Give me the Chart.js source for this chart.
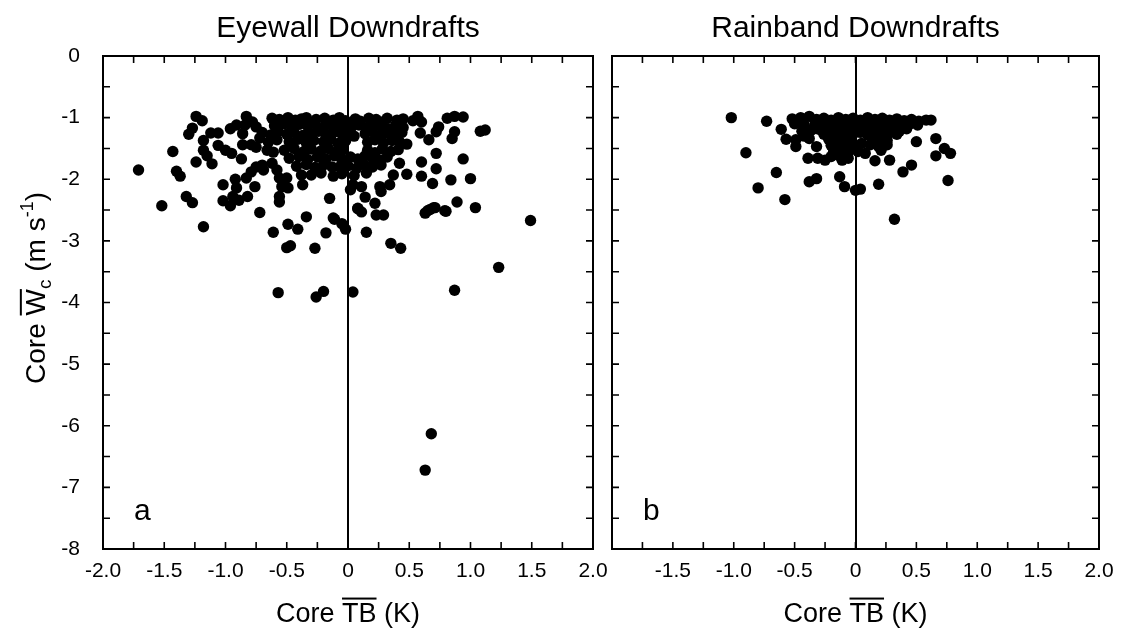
<!DOCTYPE html>
<html>
<head>
<meta charset="utf-8">
<script src="https://cdn.jsdelivr.net/npm/chart.js@4"></script>
<style>
    body { margin: 0; background: #fff; width: 1132px; height: 633px; overflow: hidden; position: relative; }
    .panel { position: absolute; top: 0; height: 633px; }
    #eyewallPanel { left: 0; width: 620px; }
    #rainbandPanel { left: 560px; width: 572px; }
</style>
</head>
<body>
<div class="panel" id="eyewallPanel"><canvas id="eyewallChart"></canvas></div>
<div class="panel" id="rainbandPanel"><canvas id="rainbandChart"></canvas></div>
<script>
// Axis ranges / tick labels
const xMin = -2, xMax = 2, xStep = 0.5;
const yMin = -8, yMax = 0, yStep = 1;
const panelTitles = ['Eyewall Downdrafts', 'Rainband Downdrafts'];
const panelLetters = ['a', 'b'];

// Eyewall downdrafts: [core TB (K), core Wc (m/s)]
const eyewallPoints = [
    [-1.71,-1.85],[-1.52,-2.43],[-1.43,-1.55],[-1.40,-1.87],[-1.37,-1.95],[-1.32,-2.28],[-1.27,-2.38],
    [-1.30,-1.27],[-1.27,-1.17],[-1.24,-0.98],[-1.19,-1.05],[-1.24,-1.72],[-1.18,-2.77],[-1.18,-1.37],
    [-1.18,-1.53],[-1.15,-1.62],[-1.11,-1.75],[-1.12,-1.25],[-1.06,-1.25],[-1.06,-1.45],[-1.00,-1.53],
    [-0.95,-1.58],[-1.02,-2.09],[-1.02,-2.35],[-0.96,-1.18],[-0.91,-1.12],[-0.84,-1.12],[-0.92,-2.00],
    [-0.91,-2.14],[-0.94,-2.28],[-0.96,-2.43],[-0.89,-2.34],[-0.87,-1.67],[-0.86,-1.44],[-0.79,-1.44],
    [-0.75,-1.48],[-0.83,-0.98],[-0.78,-1.07],[-0.75,-1.15],[-0.83,-1.98],[-0.79,-1.88],[-0.75,-1.80],
    [-0.76,-2.12],[-0.82,-2.28],[-0.72,-2.54],[-0.69,-1.85],[-0.70,-1.77],[-0.72,-1.33],[-0.66,-1.53],
    [-0.61,-1.56],[-0.62,-1.74],[-0.58,-1.85],[-0.56,-1.98],[-0.54,-2.12],[-0.56,-2.28],[-0.56,-2.37],
    [-0.50,-1.98],[-0.49,-2.14],[-0.37,-2.09],[-0.34,-2.61],[-0.38,-1.93],[-0.15,-2.31],[-0.12,-2.63],
    [-0.61,-2.86],[-0.49,-2.73],[-0.47,-3.08],[-0.50,-3.11],[-0.41,-2.81],[-0.27,-3.12],[-0.18,-2.87],
    [-0.11,-2.65],[-0.05,-2.72],[-0.02,-2.81],[-0.57,-3.84],[-0.26,-3.91],[-0.20,-3.82],[0.04,-3.83],
    [0.08,-2.48],[0.11,-2.53],[0.15,-2.86],[0.35,-3.04],[0.43,-3.12],[0.63,-2.55],[0.67,-2.49],
    [0.71,-2.46],[0.80,-2.52],[0.89,-2.37],[1.04,-2.46],[1.49,-2.67],[1.23,-3.43],[0.87,-3.80],
    [0.63,-6.72],[0.68,-6.13],
    [0.81,-1.01],[0.87,-0.98],[0.94,-0.99],[1.08,-1.22],[1.12,-1.20],[0.57,-0.98],[0.53,-1.05],
    [0.60,-1.07],[0.74,-1.15],[0.72,-1.23],[0.66,-1.36],[0.59,-1.25],[0.87,-1.23],[0.85,-1.34],
    [0.48,-1.43],[0.72,-1.58],[0.94,-1.67],[0.60,-1.72],[0.72,-1.83],[0.48,-1.92],[0.60,-1.95],
    [0.69,-2.07],[0.84,-2.01],[1.00,-1.99],[0.70,-2.46],[0.65,-2.51],[0.79,-2.51],[0.42,-1.74],
    [0.37,-1.93],[0.34,-2.09],[0.26,-2.12],[0.27,-2.20],[0.14,-2.29],[0.22,-2.39],[0.08,-2.47],
    [0.23,-2.58],[0.29,-2.58],[0.04,-2.09],[0.11,-2.12],[0.02,-2.17],[-0.07,-1.80],
    [-0.62,-1.01],[-0.56,-1.03],[-0.49,-1.00],[-0.43,-1.04],[-0.38,-1.02],[-0.34,-1.00],[-0.26,-1.03],
    [-0.19,-1.01],[-0.12,-1.04],[-0.07,-1.00],[-0.02,-1.05],[0.06,-1.02],[0.10,-1.06],[0.17,-1.01],
    [0.23,-1.03],[0.28,-1.07],[0.32,-1.01],[0.40,-1.04],[0.45,-1.02],
    [-0.60,-1.13],[-0.52,-1.10],[-0.46,-1.15],[-0.40,-1.11],[-0.33,-1.14],[-0.27,-1.10],[-0.20,-1.16],
    [-0.14,-1.12],[-0.08,-1.14],[-0.03,-1.10],[0.03,-1.15],[0.09,-1.12],[0.15,-1.17],[0.21,-1.11],
    [0.27,-1.14],[0.33,-1.18],[0.39,-1.12],[0.45,-1.16],
    [-0.86,-1.26],[-0.70,-1.24],[-0.63,-1.28],[-0.57,-1.23],[-0.50,-1.27],[-0.44,-1.24],[-0.37,-1.29],
    [-0.31,-1.25],[-0.24,-1.22],[-0.18,-1.28],[-0.12,-1.24],[-0.05,-1.27],[0.00,-1.22],[0.05,-1.30],
    [0.14,-1.26],[0.20,-1.23],[0.26,-1.29],[0.32,-1.25],[0.38,-1.28],[0.44,-1.24],
    [-0.65,-1.40],[-0.58,-1.36],[-0.48,-1.39],[-0.41,-1.35],[-0.34,-1.41],[-0.28,-1.37],[-0.20,-1.39],
    [-0.14,-1.35],[-0.08,-1.42],[-0.02,-1.38],[0.16,-1.40],[0.22,-1.36],[0.29,-1.41],[0.36,-1.37],[0.42,-1.39],
    [-0.52,-1.53],[-0.44,-1.50],[-0.36,-1.55],[-0.30,-1.51],[-0.22,-1.54],[-0.16,-1.50],[-0.10,-1.56],
    [-0.04,-1.52],[0.16,-1.53],[0.22,-1.57],[0.28,-1.51],[0.35,-1.55],[0.41,-1.52],
    [-0.48,-1.66],[-0.40,-1.63],[-0.33,-1.68],[-0.25,-1.64],[-0.18,-1.67],[-0.11,-1.62],[-0.05,-1.68],
    [0.02,-1.64],[0.08,-1.67],[0.14,-1.62],[0.20,-1.66],[0.26,-1.69],[0.32,-1.64],
    [-0.42,-1.79],[-0.34,-1.76],[-0.27,-1.81],[-0.20,-1.77],[-0.13,-1.80],[0.00,-1.78],[0.07,-1.82],
    [0.13,-1.76],[0.20,-1.80],[0.27,-1.77],
    [-0.30,-1.93],[-0.22,-1.90],[-0.12,-1.95],[-0.05,-1.91],[0.05,-1.94],[0.15,-1.90]
];

// Rainband downdrafts: [core TB (K), core Wc (m/s)]
const rainbandPoints = [
    [-1.02,-1.00],[-0.90,-1.57],[-0.80,-2.14],[-0.73,-1.06],[-0.61,-1.19],[-0.57,-1.35],[-0.65,-1.89],
    [-0.58,-2.33],[-0.47,-1.07],[-0.50,-1.10],[-0.49,-1.36],[-0.49,-1.47],[-0.38,-0.98],[-0.36,-1.20],
    [-0.38,-1.34],[-0.39,-1.66],[-0.31,-1.66],[-0.25,-1.69],[-0.32,-1.47],[-0.38,-2.04],[-0.32,-1.99],
    [-0.13,-1.96],[-0.09,-2.12],[0.00,-2.18],[0.04,-2.16],[-0.11,-1.69],[-0.06,-1.66],[0.19,-2.08],
    [0.32,-2.65],[0.39,-1.88],[0.46,-1.77],[0.76,-2.02],[0.66,-1.34],[0.73,-1.50],[0.78,-1.58],
    [0.66,-1.62],[0.50,-1.39],[0.28,-1.69],[0.16,-1.70],[0.62,-1.04],[0.05,-1.42],[0.12,-1.44],
    [0.19,-1.47],[0.02,-1.55],[0.08,-1.58],[-0.44,-1.22],[-0.42,-1.30],
    [-0.52,-1.02],[-0.45,-1.00],[-0.32,-1.03],[-0.26,-1.01],[-0.20,-1.04],[-0.14,-1.00],[-0.08,-1.03],
    [-0.02,-1.01],[0.04,-1.04],[0.10,-1.00],[0.16,-1.03],[0.22,-1.01],[0.28,-1.04],[0.34,-1.02],
    [0.40,-1.05],[0.46,-1.03],[0.52,-1.06],[0.58,-1.04],
    [-0.42,-1.12],[-0.33,-1.09],[-0.27,-1.13],[-0.21,-1.10],[-0.15,-1.12],[-0.09,-1.08],[-0.03,-1.11],
    [0.03,-1.13],[0.09,-1.09],[0.15,-1.12],[0.21,-1.10],[0.27,-1.13],[0.33,-1.09],[0.39,-1.12],
    [0.45,-1.10],[0.51,-1.12],
    [-0.30,-1.19],[-0.24,-1.16],[-0.18,-1.20],[-0.12,-1.17],[-0.06,-1.19],[0.00,-1.16],[0.06,-1.20],
    [0.12,-1.18],[0.18,-1.21],[0.24,-1.17],[0.30,-1.19],[0.36,-1.22],[0.42,-1.18],
    [-0.26,-1.27],[-0.20,-1.24],[-0.14,-1.28],[-0.08,-1.25],[-0.02,-1.27],[0.04,-1.24],[0.10,-1.28],
    [0.16,-1.26],[0.22,-1.29],[0.28,-1.25],[0.34,-1.27],
    [-0.22,-1.35],[-0.16,-1.33],[-0.10,-1.36],[-0.04,-1.34],[0.14,-1.36],[0.20,-1.33],[0.26,-1.37],
    [-0.20,-1.45],[-0.14,-1.42],[-0.08,-1.46],[-0.02,-1.43],[0.26,-1.44],
    [-0.18,-1.55],[-0.12,-1.52],[-0.06,-1.56],[0.21,-1.53],
    [-0.20,-1.63],[-0.14,-1.61]
];

const FONT = "'Liberation Sans', Arial, Helvetica, sans-serif";

// draw a run of text pieces (with overline / sub / superscript) starting at x, baseline y
function drawPieces(ctx, pieces, x, y) {
    let cx = x;
    pieces.forEach(p => {
        ctx.font = p.size + 'px ' + FONT;
        const w = ctx.measureText(p.t).width;
        ctx.fillText(p.t, cx, y + (p.dy || 0));
        if(p.over) {
            ctx.fillRect(cx, y - p.size * 0.72 - 5, w, 2);
        }
        cx += w;
    });
    return cx - x;
}

function piecesWidth(ctx, pieces) {
    let w = 0;
    pieces.forEach(p => { ctx.font = p.size + 'px ' + FONT; w += ctx.measureText(p.t).width; });
    return w;
}

const xTitlePieces = [
    { t: 'Core ', size: 27 }, { t: 'TB', size: 27, over: true }, { t: ' (K)', size: 27 }
];
const yTitlePieces = [
    { t: 'Core ', size: 28 }, { t: 'W', size: 28, over: true }, { t: 'c', size: 19, dy: 6 },
    { t: ' (m s', size: 28 }, { t: '-1', size: 18, dy: -12 }, { t: ')', size: 28 }
];

function panelDecor(idx, withYTitle) {
    return {
        id: 'panelDecor' + idx,
        afterDraw(chart) {
            const ctx = chart.ctx;
            const a = chart.chartArea;
            const xs = chart.scales.x, ys = chart.scales.y;
            ctx.save();
            ctx.fillStyle = '#000';
            ctx.strokeStyle = '#000';
            // frame
            ctx.lineWidth = 2;
            ctx.strokeRect(a.left, a.top, a.right - a.left, a.bottom - a.top);
            // inward ticks
            ctx.lineWidth = 1.6;
            ctx.beginPath();
            for(let i = -8; i <= 8; i++) {
                const px = xs.getPixelForValue(i / 4);
                ctx.moveTo(px, a.bottom); ctx.lineTo(px, a.bottom - 7);
                ctx.moveTo(px, a.top); ctx.lineTo(px, a.top + 7);
            }
            for(let j = 0; j <= 16; j++) {
                const py = ys.getPixelForValue(-j / 2);
                ctx.moveTo(a.left, py); ctx.lineTo(a.left + 7, py);
                ctx.moveTo(a.right, py); ctx.lineTo(a.right - 7, py);
            }
            ctx.stroke();
            // panel title
            const cx = (a.left + a.right) / 2;
            ctx.font = '30px ' + FONT;
            ctx.textAlign = 'center';
            ctx.textBaseline = 'alphabetic';
            ctx.fillText(panelTitles[idx], cx, 37);
            // panel letter
            ctx.textAlign = 'left';
            ctx.font = '30px ' + FONT;
            ctx.fillText(panelLetters[idx], a.left + 31, a.bottom - 29);
            // x title
            const xw = piecesWidth(ctx, xTitlePieces);
            drawPieces(ctx, xTitlePieces, cx - xw / 2, 622);
            // y title
            if(withYTitle) {
                ctx.translate(45, 288);
                ctx.rotate(-Math.PI / 2);
                const yw = piecesWidth(ctx, yTitlePieces);
                drawPieces(ctx, yTitlePieces, -yw / 2, 0);
            }
            ctx.restore();
        }
    };
}

function makeChart(canvasId, points, idx) {
    const isLeft = idx === 0;
    return new Chart(document.getElementById(canvasId), {
        type: 'scatter',
        data: {
            datasets: [{
                data: points.map(p => ({ x: p[0], y: p[1] })),
                backgroundColor: '#000',
                borderWidth: 0,
                pointRadius: 5.7
            }]
        },
        options: {
            responsive: true,
            maintainAspectRatio: false,
            animation: false,
            layout: { padding: { top: 56, right: isLeft ? 27 : 33, bottom: 0, left: 0 } },
            plugins: { legend: { display: false }, tooltip: { enabled: false } },
            scales: {
                x: {
                    type: 'linear', min: xMin, max: xMax,
                    border: { display: false },
                    grid: {
                        drawTicks: false,
                        color: c => (c.tick && c.tick.value === 0) ? '#000' : 'rgba(0,0,0,0)',
                        lineWidth: 2
                    },
                    ticks: {
                        stepSize: xStep, autoSkip: false, maxRotation: 0, padding: 10, color: '#000',
                        font: { family: FONT, size: 21 },
                        callback: v => (!isLeft && v === xMin) ? '' : (v === 0 ? '0' : v.toFixed(1))
                    },
                    afterFit: s => { s.height = 84; }
                },
                y: {
                    min: yMin, max: yMax,
                    border: { display: false },
                    grid: { display: false },
                    ticks: {
                        display: isLeft, stepSize: yStep, padding: 15, color: '#000',
                        font: { family: FONT, size: 21 }
                    },
                    afterFit: s => { s.width = isLeft ? 103 : 52; }
                }
            }
        },
        plugins: [panelDecor(idx, isLeft)]
    });
}

makeChart('eyewallChart', eyewallPoints, 0);
makeChart('rainbandChart', rainbandPoints, 1);
</script>
</body>
</html>
